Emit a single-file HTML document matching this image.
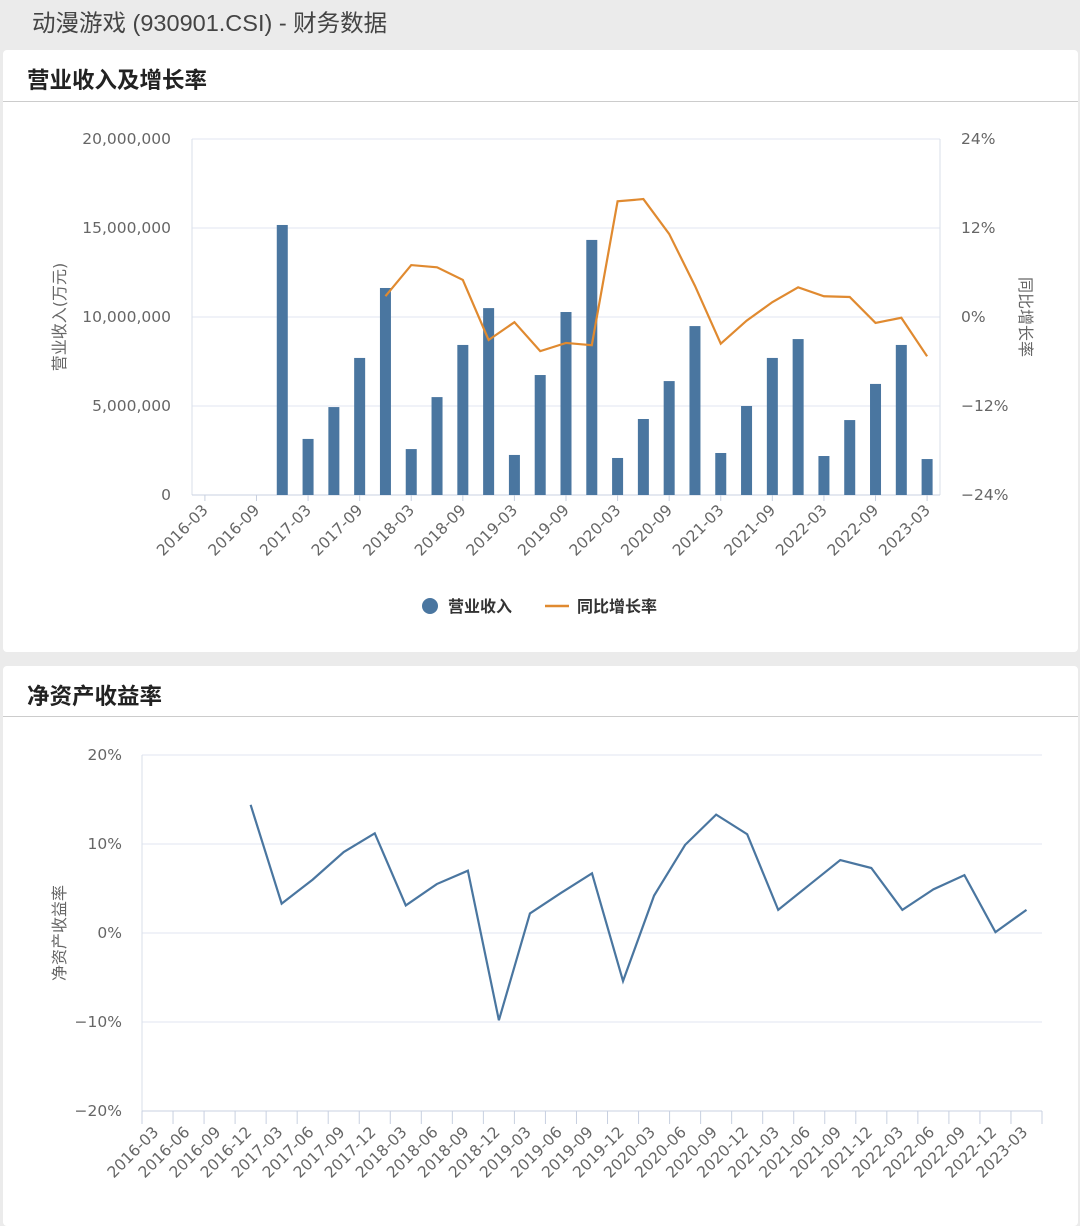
<!DOCTYPE html>
<html><head><meta charset="utf-8"><style>
body{margin:0;width:1080px;height:1215px;background:#ebebeb;font-family:"Liberation Sans","Noto Sans CJK SC",sans-serif;overflow:hidden;position:relative}
.hdr{position:absolute;left:32px;top:4px;font-size:23.5px;color:#444}
.card{position:absolute;left:3px;width:1075px;background:#fff;border-radius:4px}
.title{position:absolute;left:24px;font-size:22.5px;font-weight:bold;color:#222}
svg text{font-family:"DejaVu Sans","Noto Sans CJK SC",sans-serif}
</style></head><body>
<div class="hdr">动漫游戏 (930901.CSI) - 财务数据</div>
<div class="card" style="top:50px;height:602px">
<div class="title" style="top:13px">营业收入及增长率</div>
<div style="position:absolute;left:0;right:0;top:51px;border-top:1px solid #ccc"></div></div>
<div class="card" style="top:666px;height:560px">
<div class="title" style="top:13px">净资产收益率</div>
<div style="position:absolute;left:0;right:0;top:50px;border-top:1px solid #ccc"></div></div>
<svg id="svg" width="1080" height="1215" style="position:absolute;left:0;top:0"></svg>
<script>
const cats=["2016-03","2016-06","2016-09","2016-12","2017-03","2017-06","2017-09","2017-12","2018-03","2018-06","2018-09","2018-12","2019-03","2019-06","2019-09","2019-12","2020-03","2020-06","2020-09","2020-12","2021-03","2021-06","2021-09","2021-12","2022-03","2022-06","2022-09","2022-12","2023-03"];
const revenue=[0,0,0,15170000,3150000,4940000,7700000,11630000,2580000,5500000,8430000,10500000,2250000,6740000,10280000,14330000,2080000,4270000,6400000,9490000,2360000,5000000,7700000,8760000,2190000,4210000,6240000,8430000,2020000];
const growth=[null,null,null,null,null,null,null,2.8,7.0,6.7,5.0,-3.1,-0.7,-4.6,-3.5,-3.8,15.6,15.9,11.2,4.2,-3.6,-0.5,2.0,4.0,2.8,2.7,-0.8,-0.1,-5.3];
const roe=[null,null,null,14.4,3.3,6.0,9.1,11.2,3.1,5.5,7.0,-9.8,2.2,4.5,6.7,-5.4,4.2,9.9,13.3,11.1,2.6,5.4,8.2,7.3,2.6,4.9,6.5,0.1,2.6];
const leftTicks=["0","5,000,000","10,000,000","15,000,000","20,000,000"];
const rightTicks=["−24%","−12%","0%","12%","24%"];
const roeTicks=["−20%","−10%","0%","10%","20%"];
const svg=document.getElementById('svg');const NS='http://www.w3.org/2000/svg';
function el(t,a,txt){const e=document.createElementNS(NS,t);for(const k in a)e.setAttribute(k,a[k]);if(txt!=null)e.textContent=txt;svg.appendChild(e);return e;}
// chart 1
const L1=192,R1=940,T1=139,B1=495,bw1=(R1-L1)/cats.length;
const x1=i=>L1+bw1*(i+0.5), yL=v=>B1-(v/20000000)*(B1-T1), yR=v=>B1-((v+24)/48)*(B1-T1);
for(let k=0;k<5;k++){const y=B1-k*(B1-T1)/4;
let g=el('line',{x1:L1,x2:R1,y1:y,y2:y,stroke:'#e0e6f0'});
let t=el('text',{x:171,y:y+5,'text-anchor':'end','font-size':15.5,fill:'#666'},leftTicks[k]);
let r=el('text',{x:961,y:y+5,'font-size':15.5,fill:'#666'},rightTicks[k]);}
el('line',{x1:L1,x2:L1,y1:T1,y2:B1,stroke:'#d8dfea'});el('line',{x1:R1,x2:R1,y1:T1,y2:B1,stroke:'#d8dfea'});
el('line',{x1:L1,x2:R1,y1:B1,y2:B1,stroke:'#c8d0e0'});
revenue.forEach((v,i)=>{if(!v)return;const b=el('rect',{x:x1(i)-5.5,y:yL(v),width:11,height:B1-yL(v),fill:'#4a76a0'});});
cats.forEach((c,i)=>{if(i%2)return;const x=x1(i);el('line',{x1:x,x2:x,y1:B1,y2:B1+6,stroke:'#c8d0e0'});
const t=el('text',{x:x+4,y:B1+16,'text-anchor':'end','font-size':15.5,fill:'#666',transform:`rotate(-45 ${x+4} ${B1+16})`},c);});
let pts=[];growth.forEach((v,i)=>{if(v!=null)pts.push(x1(i)+','+yR(v));});
const gl=el('polyline',{points:pts.join(' '),fill:'none',stroke:'#e08a30','stroke-width':2.2});
let ya=el('text',{x:65,y:317,'text-anchor':'middle','font-size':16,fill:'#666',transform:'rotate(-90 65 317)'},'营业收入(万元)');
let yb=el('text',{x:1020,y:317,'text-anchor':'middle','font-size':16,fill:'#666',transform:'rotate(90 1020 317)'},'同比增长率');
let lg1=el('circle',{cx:430,cy:606,r:8,fill:'#4a76a0'});
let lt1=el('text',{x:448,y:612,'font-size':16,'font-weight':'bold',fill:'#333'},'营业收入');
el('line',{x1:545,x2:569,y1:606,y2:606,stroke:'#e08a30','stroke-width':2.5});
let lt2=el('text',{x:577,y:612,'font-size':16,'font-weight':'bold',fill:'#333'},'同比增长率');
// chart 2
const L2=142,R2=1042,T2=755,B2=1111,bw2=(R2-L2)/cats.length;
const x2=i=>L2+bw2*(i+0.5),y2=v=>B2-((v+20)/40)*(B2-T2);
for(let k=0;k<5;k++){const y=B2-k*(B2-T2)/4;
let g=el('line',{x1:L2,x2:R2,y1:y,y2:y,stroke:'#e0e6f0'});
let t=el('text',{x:122,y:y+5,'text-anchor':'end','font-size':15.5,fill:'#666'},roeTicks[k]);}
el('line',{x1:L2,x2:L2,y1:T2,y2:B2,stroke:'#d8dfea'});el('line',{x1:L2,x2:R2,y1:B2,y2:B2,stroke:'#c8d0e0'});
for(let i=0;i<=cats.length;i++){const x=L2+bw2*i;el('line',{x1:x,x2:x,y1:B2,y2:B2+13,stroke:'#c8d0e0'});}
cats.forEach((c,i)=>{const x=x2(i)+2;const t=el('text',{x:x,y:B2+22,'text-anchor':'end','font-size':15.5,fill:'#666',transform:`rotate(-45 ${x} ${B2+22})`},c);});
pts=[];roe.forEach((v,i)=>{if(v!=null)pts.push(x2(i)+','+y2(v));});
const rl=el('polyline',{points:pts.join(' '),fill:'none',stroke:'#4a76a0','stroke-width':2.2});
let yc=el('text',{x:65,y:933,'text-anchor':'middle','font-size':16,fill:'#666',transform:'rotate(-90 65 933)'},'净资产收益率');
</script></body></html>
